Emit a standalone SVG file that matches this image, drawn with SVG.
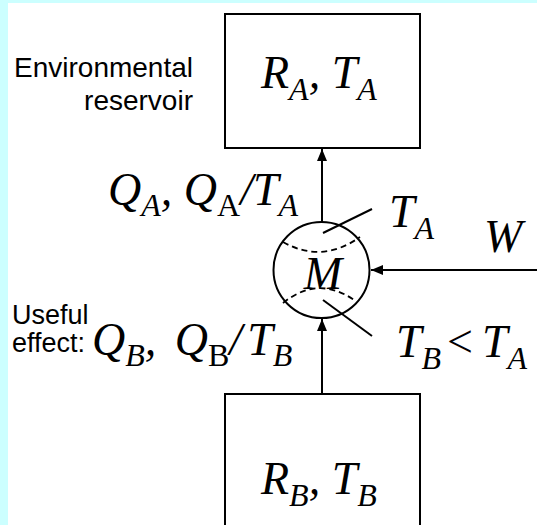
<svg xmlns="http://www.w3.org/2000/svg" width="537" height="525" viewBox="0 0 537 525">
  <style>
    .box { fill: #ffffff; stroke: #000000; stroke-width: 2; }
    .line { fill: none; stroke: #000000; stroke-width: 2; }
    .dash { fill: none; stroke: #000000; stroke-width: 1.8; stroke-dasharray: 6 4; }
    .sans { font-family: "Liberation Sans", Arial, sans-serif; font-size: 28px; fill: #000000; }
    .sans2 { font-family: "Liberation Sans", Arial, sans-serif; font-size: 27px; fill: #000000; }
    .math { font-family: "Liberation Serif", "Times New Roman", serif; font-style: italic; font-size: 46px; fill: #000000; }
    .sub { font-size: 32px; }
    .rm { font-style: normal; }
  </style>
  <defs>
    <marker id="arrow" markerWidth="12" markerHeight="10" refX="12" refY="5" orient="auto" markerUnits="userSpaceOnUse">
      <path d="M0,0 L12,5 L0,10 Z" fill="#000000"/>
    </marker>
  </defs>
  <rect x="0" y="0" width="537" height="525" fill="#CCFFFF"/>
  <rect x="8" y="3" width="529" height="522" fill="#ffffff"/>

  <g id="connectors">
    <line class="line" x1="322" y1="222" x2="322" y2="149" marker-end="url(#arrow)"/>
    <line class="line" x1="322" y1="393" x2="322" y2="319" marker-end="url(#arrow)"/>
    <line class="line" x1="537" y1="270" x2="371" y2="270" marker-end="url(#arrow)"/>
    <line class="line" x1="323" y1="233" x2="372" y2="209"/>
    <line class="line" x1="323" y1="300" x2="372" y2="336"/>
  </g>

  <g id="reservoir-A">
    <rect class="box" x="225" y="14" width="195" height="134"/>
    <text class="math" x="261" y="88">R<tspan class="sub" dy="12">A</tspan><tspan dy="-12">, T</tspan><tspan class="sub" dy="12">A</tspan></text>
  </g>

  <g id="reservoir-B">
    <rect class="box" x="225" y="394" width="195" height="140"/>
    <text class="math" x="261" y="494">R<tspan class="sub" dy="12">B</tspan><tspan dy="-12">, T</tspan><tspan class="sub" dy="12">B</tspan></text>
  </g>

  <g id="machine-M">
    <circle class="line" cx="321.5" cy="270" r="48"/>
    <path class="dash" d="M283,242 Q322,264 360,237"/>
    <path class="dash" d="M283,303 Q318,275 354,300"/>
    <text class="math" x="323" y="289" text-anchor="middle">M</text>
  </g>

  <g id="labels">
    <text class="sans" x="193" y="77" text-anchor="end">Environmental</text>
    <text class="sans" x="193" y="110" text-anchor="end">reservoir</text>
    <text class="sans2" x="12" y="324">Useful</text>
    <text class="sans2" x="12" y="352">effect:</text>
    <text class="math" x="108" y="205">Q<tspan class="sub" dy="11">A</tspan><tspan dy="-11">, Q</tspan><tspan class="sub rm" dy="11">A</tspan><tspan dy="-11">/T</tspan><tspan class="sub" dy="11">A</tspan></text>
    <text class="math" x="92" y="355">Q<tspan class="sub" dy="11">B</tspan><tspan dy="-11">, </tspan><tspan dx="7">Q</tspan><tspan class="sub rm" dy="11">B</tspan><tspan dy="-11">/</tspan><tspan dx="5">T</tspan><tspan class="sub" dy="11">B</tspan></text>
    <text class="math" x="389" y="227">T<tspan class="sub" dy="12">A</tspan></text>
    <text class="math" x="484" y="252">W</text>
    <text class="math" x="396" y="357">T<tspan class="sub" dy="12">B</tspan><tspan class="rm" dy="-12" x="447">&lt;</tspan><tspan x="482">T</tspan><tspan class="sub" dy="12">A</tspan></text>
  </g>
</svg>
